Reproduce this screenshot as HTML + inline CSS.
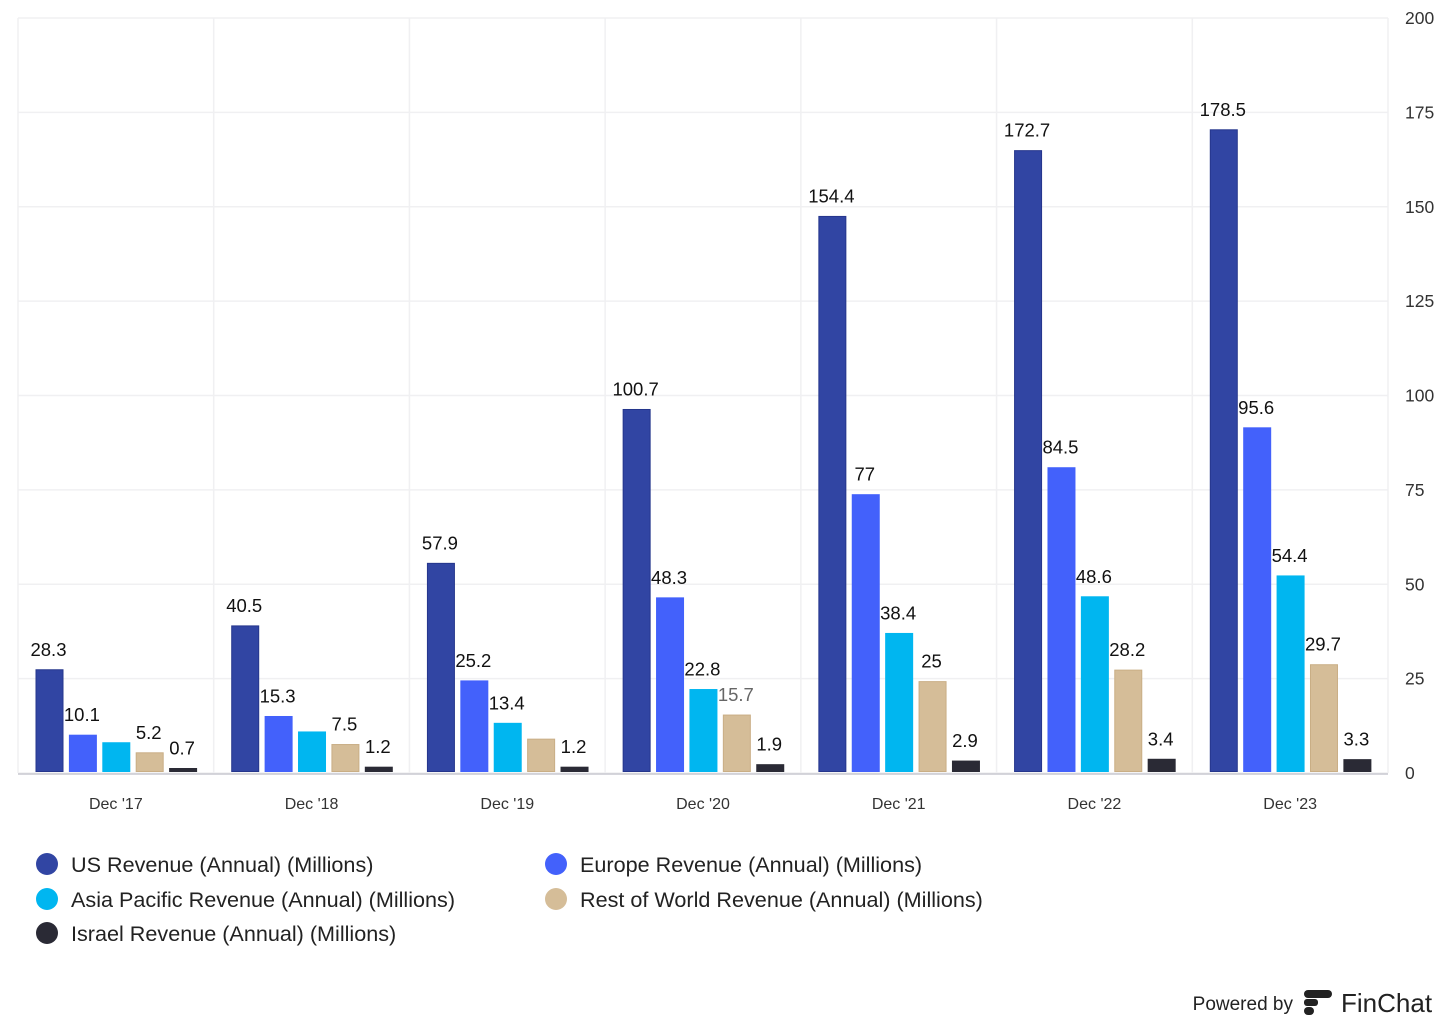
<!DOCTYPE html>
<html><head><meta charset="utf-8"><style>
body{margin:0;background:#fff;width:1456px;height:1032px;overflow:hidden;font-family:"Liberation Sans",sans-serif}
svg{display:block}
</style></head><body>
<svg id="chart" width="1456" height="1032">
<g id="grid"></g>
<g id="bars"></g>
<g id="labels"></g>
<g id="axes"></g>
<g id="legend"></g>
<g>
<text x="1293" y="1010" font-size="19" text-anchor="end" fill="#222">Powered by</text>
<g>
<rect x="1304" y="990" width="28" height="8" rx="4" fill="#222"/>
<rect x="1304" y="999" width="14" height="7" rx="3" fill="#222"/>
<rect x="1304" y="1007" width="10" height="8" rx="4" fill="#222"/>
</g>
<text x="1341" y="1012" font-size="26" fill="#222">FinChat</text>
</g>
</svg>
<script>
const categories=["Dec '17","Dec '18","Dec '19","Dec '20","Dec '21","Dec '22","Dec '23"];
const usRev=[28.3,40.5,57.9,100.7,154.4,172.7,178.5];
const europeRev=[10.1,15.3,25.2,48.3,77,84.5,95.6];
const asiaRev=[8,11,13.4,22.8,38.4,48.6,54.4];
const rowRev=[5.2,7.5,9,15.7,25,28.2,29.7];
const israelRev=[0.7,1.2,1.2,1.9,2.9,3.4,3.3];
const yTicks=[0,25,50,75,100,125,150,175,200];
const seriesNames=["US Revenue (Annual) (Millions)","Europe Revenue (Annual) (Millions)","Asia Pacific Revenue (Annual) (Millions)","Rest of World Revenue (Annual) (Millions)","Israel Revenue (Annual) (Millions)"];
const labelShown=[[1,1,0,1,1],[1,1,0,1,1],[1,1,1,0,1],[1,1,1,1,1],[1,1,1,1,1],[1,1,1,1,1],[1,1,1,1,1]];

const series=[usRev,europeRev,asiaRev,rowRev,israelRev];
const colors=["#3145a3","#4361fb","#00b6f0","#d5bd98","#2a2a35"];
const NS="http://www.w3.org/2000/svg";
const X0=18,X1=1388,groupW=(X1-X0)/categories.length;
const gridY=v=>773-v*3.775;
const barBase=771.5, barScale=3.595;
const barH=v=>v*barScale;
const barX=(g,s)=>X0+g*groupW+18+s*33.4;
function mk(t,a,p){const e=document.createElementNS(NS,t);for(const k in a)e.setAttribute(k,a[k]);p.appendChild(e);return e;}
const grid=document.getElementById('grid'),bars=document.getElementById('bars'),labels=document.getElementById('labels'),axes=document.getElementById('axes'),legend=document.getElementById('legend');
yTicks.forEach(v=>{
  const l=mk('line',{x1:X0,x2:X1,y1:gridY(v),y2:gridY(v),stroke:'#f0f0f2','stroke-width':1.5},grid);
  
  
  const t=mk('text',{x:1405,y:gridY(v)+6,'font-size':17.5,fill:'#333'},axes);
  t.textContent=v;
  
  
});
for(let g=0;g<=categories.length;g++){
  const l=mk('line',{x1:X0+g*groupW,x2:X0+g*groupW,y1:18,y2:773,stroke:'#f0f0f2','stroke-width':1.5},grid);
  
  
}
const ax=mk('line',{x1:X0,x2:X1,y1:774,y2:774,stroke:'#c8c8d0','stroke-width':1.5},axes);


categories.forEach((c,g)=>{
  const t=mk('text',{x:X0+g*groupW+groupW/2,y:809,'font-size':16,fill:'#333','text-anchor':'middle'},axes);
  t.textContent=c;
  
  
  series.forEach((arr,s)=>{
    const h=Math.max(barH(arr[g]),3);
    const r=mk('rect',{x:barX(g,s),y:barBase-h,width:27,height:h,fill:colors[s],stroke:s==3?'#c9ae85':(s==0?'#25368c':colors[s]),'stroke-width':1},bars);
    
    
    if(labelShown[g][s]){
      const lt=mk('text',{x:barX(g,s)+12.5,y:barBase-h-14,'font-size':18.5,fill:(g==3&&s==3)?'#666':'#111','text-anchor':'middle'},labels);
      lt.textContent=arr[g];
      
      
    }
  });
});
const legPos=[[47,864],[556,864],[47,899],[556,899],[47,933]];
seriesNames.forEach((n,s)=>{
  const c=mk('circle',{cx:legPos[s][0],cy:legPos[s][1],r:11,fill:colors[s]},legend);
  
  
  const t=mk('text',{x:legPos[s][0]+24,y:legPos[s][1]+8,'font-size':21.6,fill:'#222'},legend);
  t.textContent=n;
  
  
});
</script>
</body></html>
